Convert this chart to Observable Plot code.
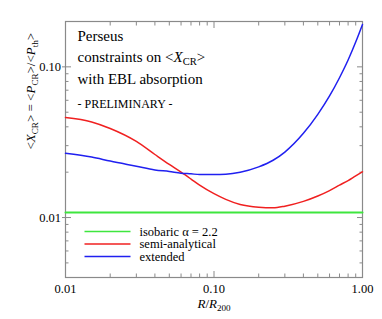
<!DOCTYPE html>
<html><head><meta charset="utf-8">
<script src="https://cdn.jsdelivr.net/npm/d3@7"></script>
<script src="https://cdn.jsdelivr.net/npm/@observablehq/plot@0.6"></script>
<style>html,body{margin:0;padding:0;background:#fff} svg text{font-family:'Liberation Serif','Times New Roman','DejaVu Serif',serif}</style>
</head><body><div id="chart"></div>
<script>
// ---- data ----
const radius = [0.01, 0.015, 0.02, 0.03, 0.04, 0.05, 0.06, 0.07, 0.08, 0.1, 0.12, 0.15, 0.2, 0.25, 0.3, 0.4, 0.5, 0.6, 0.7, 0.8, 0.9, 1.0];
const semiAnalytical = [0.0461, 0.0431, 0.0390, 0.0320, 0.0262, 0.0225, 0.0200, 0.0180, 0.0164, 0.0144, 0.0132, 0.0122, 0.0117, 0.0116, 0.0119, 0.0128, 0.0139, 0.0151, 0.0164, 0.0176, 0.0189, 0.0201];
const extended = [0.0267, 0.0252, 0.0237, 0.0219, 0.0207, 0.0202, 0.0197, 0.0195, 0.0193, 0.0193, 0.0194, 0.0200, 0.0217, 0.0240, 0.0272, 0.0362, 0.0484, 0.0641, 0.0847, 0.111, 0.146, 0.191];
const isobaric = 0.0108;
const seriesNames = ["isobaric α = 2.2", "semi-analytical", "extended"];
const seriesColors = ["#3ee63e", "#f02020", "#2020f0"];
const xMajorTicks = [0.01, 0.1, 1];
const xMinorTicks = [0.02, 0.03, 0.04, 0.05, 0.06, 0.07, 0.08, 0.09, 0.2, 0.3, 0.4, 0.5, 0.6, 0.7, 0.8, 0.9];
const yMajorTicks = [0.01, 0.1];
const yMinorTicks = [0.004, 0.005, 0.006, 0.007, 0.008, 0.009, 0.02, 0.03, 0.04, 0.05, 0.06, 0.07, 0.08, 0.09, 0.2];
const annotationLines = ["Perseus", "constraints on <*X*_{CR}>", "with EBL absorption"];
const preliminaryNote = "- PRELIMINARY -";
const xTitle = "*R*/*R*_{200}";
const yTitle = "<*X*_{CR}> = <*P*_{CR}>/<*P*_{th}>";

// ---- table ----
const seriesValues = [radius.map(() => isobaric), semiAnalytical, extended];
const rows = seriesNames.flatMap((name, k) => radius.map((r, i) => ({r, v: seriesValues[k][i], series: name})));

const hline = {draw(ctx) { ctx.moveTo(-23, 0); ctx.lineTo(23, 0); }};
const axisColor = "#8a8a8a";
const blank = () => "";
const font = "'Liberation Serif', 'Times New Roman', 'DejaVu Serif', serif";
const annotDy = [19.7, 40.7, 62.3];
const legendDy = [-46, -33.5, -21];

const chart = Plot.plot({
  width: 382, height: 319,
  marginLeft: 65, marginRight: 20, marginTop: 21, marginBottom: 42,
  style: {fontFamily: font, fontSize: "12.5px", background: "#fff", color: "#000", overflow: "visible"},
  x: {type: "log", domain: [0.01, 1]},
  y: {type: "log", domain: [0.004, 0.2]},
  color: {domain: seriesNames, range: seriesColors},
  marks: [
    Plot.frame({stroke: axisColor, strokeWidth: 1.2}),
    // minor ticks (inside, all four sides)
    Plot.axisX(xMinorTicks, {anchor: "bottom", tickSize: -3.5, tickFormat: blank, label: null, stroke: axisColor}),
    Plot.axisX(xMinorTicks, {anchor: "top", tickSize: -3.5, tickFormat: blank, label: null, stroke: axisColor}),
    Plot.axisY(yMinorTicks, {anchor: "left", tickSize: -3.5, tickFormat: blank, label: null, stroke: axisColor}),
    Plot.axisY(yMinorTicks, {anchor: "right", tickSize: -3.5, tickFormat: blank, label: null, stroke: axisColor}),
    // major ticks
    Plot.axisX(xMajorTicks, {anchor: "bottom", tickSize: -6, tickFormat: blank, label: null, stroke: axisColor}),
    Plot.axisX(xMajorTicks, {anchor: "top", tickSize: -6, tickFormat: blank, label: null, stroke: axisColor}),
    Plot.axisY(yMajorTicks, {anchor: "left", tickSize: -6, tickFormat: blank, label: null, stroke: axisColor}),
    Plot.axisY(yMajorTicks, {anchor: "right", tickSize: -6, tickFormat: blank, label: null, stroke: axisColor}),
    // labelled axes
    Plot.axisX(xMajorTicks, {anchor: "bottom", tickSize: 0, tickPadding: 7, tickFormat: d3.format(".2f"), label: null, fontSize: 12.5, fontFamily: font}),
    Plot.axisY(yMajorTicks, {anchor: "left", tickSize: 3, tickPadding: 1.5, tickFormat: d3.format(".2f"), label: null, fontSize: 12.5, fontFamily: font, stroke: axisColor}),
    // curves
    Plot.line(rows, {x: "r", y: "v", stroke: "series", z: "series", strokeWidth: d => d.series === seriesNames[0] ? 2 : 1.5, curve: "monotone-x"}),
    // annotations
    ...annotationLines.map((line, i) => Plot.text([line], {text: d => d, frameAnchor: "top-left", textAnchor: "start", lineAnchor: "bottom", dx: 12, dy: annotDy[i], fontSize: 15, fontFamily: font})),
    Plot.text([preliminaryNote], {text: d => d, frameAnchor: "top-left", textAnchor: "start", lineAnchor: "bottom", dx: 12, dy: 86, fontSize: 12, fontFamily: font}),
    // legend
    ...seriesNames.map((name, i) => Plot.dot([name], {frameAnchor: "bottom-left", dx: 42, dy: legendDy[i], symbol: hline, stroke: d => d, strokeWidth: 1.6})),
    ...seriesNames.map((name, i) => Plot.text([name], {text: d => d, frameAnchor: "bottom-left", textAnchor: "start", lineAnchor: "middle", dx: 74, dy: legendDy[i], fontSize: 12.5, fontFamily: font})),
    // axis titles
    Plot.text([xTitle], {text: d => d, frameAnchor: "bottom", lineAnchor: "bottom", dy: 30, fontSize: 13, fontFamily: font}),
    Plot.text([yTitle], {text: d => d, frameAnchor: "left", rotate: -90, lineAnchor: "middle", dx: -35, fontSize: 13, fontFamily: font})
  ]
});

const svg = chart.tagName === "svg" ? chart : chart.querySelector("svg");

// rich text: *italic* and _{subscript}
function richify(t) {
  const s = t.textContent;
  if (!/[*_]/.test(s)) return;
  const parts = s.match(/\*[^*]+\*|_\{[^}]+\}|[^*_]+/g);
  t.textContent = "";
  let shifted = false;
  for (const p of parts) {
    const ts = document.createElementNS("http://www.w3.org/2000/svg", "tspan");
    if (p.startsWith("*")) { ts.textContent = p.slice(1, -1); ts.setAttribute("font-style", "italic"); }
    else if (p.startsWith("_{")) { ts.textContent = p.slice(2, -1); ts.setAttribute("font-size", "70%"); ts.setAttribute("dy", "3"); shifted = true; t.appendChild(ts); continue; }
    else { ts.textContent = p; }
    if (shifted) { ts.setAttribute("dy", "-3"); shifted = false; }
    t.appendChild(ts);
  }
}
svg.querySelectorAll("text").forEach(richify);
document.getElementById("chart").appendChild(chart);
</script>
</body></html>
